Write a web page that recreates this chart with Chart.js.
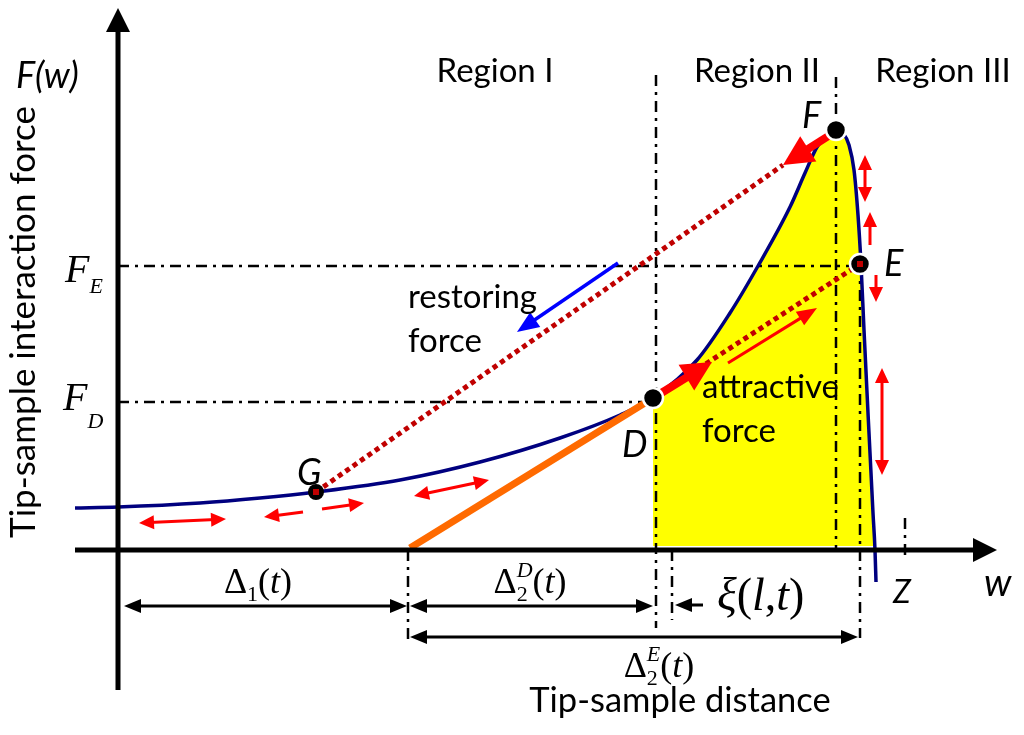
<!DOCTYPE html>
<html><head><meta charset="utf-8">
<script src="https://cdn.jsdelivr.net/npm/chart.js@4/dist/chart.umd.min.js"></script>
<style>html,body{margin:0;padding:0;background:#fff;}canvas{display:block;}</style>
</head><body>
<canvas id="c" width="1024" height="735"></canvas>
<script>
// tip-sample force curve F(w)
let curveW=[-4.3,0,8.2,14.2,19.8,28.2,36.2,44.2,50.2,53.5,57.9,61.2,64.0,67.2,68.7,69.9,71.0,71.8,72.5,73.1,73.6,74.0,74.3,74.6,75.0,75.5,75.7,75.8];
let curveF=[4.2,4.3,4.7,5.2,5.8,7.0,8.8,11.2,13.5,15.2,19.0,23.7,28.4,34.3,37.7,40.3,41.6,42.0,41.7,40.5,38.0,33.5,28.6,22.0,13.7,3.7,0,-3.2];
// named points on the curve
let ptNames=['G','D','F','E'];
let ptW=[19.8,53.5,71.8,74.2];
let ptF=[5.8,15.2,42.0,28.6];
// orange tangent line ending at D
let tangentW=[29.2,53.5];
let tangentF=[0.2,15.2];
// red dotted lines G->F and D->E
let dotGFw=[19.8,66.5], dotGFf=[5.8,38.5];
let dotDEw=[53.5,74.2], dotDEf=[15.2,28.6];
// dash-dot guides [w1,F1,w2,F2]
let guides=[
  [0,28.4,74.2,28.4],[0,14.8,53.5,14.8],
  [53.8,47.5,53.8,-7.8],[71.8,47.3,71.8,0],[74.2,28.6,74.2,-8.8],
  [55.4,0,55.4,-7],[29.0,0,29.0,-9.5],[78.7,3.2,78.7,-0.8]
];
// red arrows [w1,F1,w2,F2,both,kind]
let redArrows=[
  [71.2,41.5,66.5,38.5,0,'thick'],[54.0,15.5,59.4,18.8,0,'thick'],
  [61.0,18.7,69.9,24.2,0,'thin'],
  [74.7,39.5,74.7,34.8,1,'small'],[75.2,30.5,75.2,33.8,0,'small'],
  [75.8,27.5,75.8,24.8,0,'small'],[76.4,18.2,76.4,7.5,1,'small'],
  [2.1,2.7,10.8,3.1,1,'small'],[18.5,3.8,14.6,3.3,0,'small'],
  [20.4,4.1,24.6,4.7,0,'small'],[29.6,5.4,37.1,7.0,1,'small']
];
let restoreArrow=[50.0,28.7,39.9,21.8];
// dimension arrows below the w axis
let dimArrows=[[0.6,-5.6,28.9,-5.6,1],[29.2,-5.6,53.5,-5.6,1],[58.5,-5.5,55.7,-5.5,0],[29.2,-8.7,74.0,-8.7,1]];
let regionNames=['Region I','Region II','Region III'];
let regionW=[37.7,63.9,82.5];

const SANS='Lato, "Open Sans", sans-serif';
const SERIF='"Liberation Serif", "DejaVu Serif", serif';

function xy(ws,fs){return ws.map((w,i)=>({x:w,y:fs[i]}));}

function head(ctx,x,y,a,L,H){
  ctx.beginPath();ctx.moveTo(x,y);
  ctx.lineTo(x-L*Math.cos(a)+H*Math.sin(a),y-L*Math.sin(a)-H*Math.cos(a));
  ctx.lineTo(x-L*Math.cos(a)-H*Math.sin(a),y-L*Math.sin(a)+H*Math.cos(a));
  ctx.closePath();ctx.fill();
}
function arrow(ctx,x1,y1,x2,y2,both,color,w,L,H){
  const a=Math.atan2(y2-y1,x2-x1),c=Math.cos(a),s=Math.sin(a);
  ctx.save();ctx.strokeStyle=color;ctx.fillStyle=color;ctx.lineWidth=w;ctx.lineCap='butt';
  ctx.beginPath();
  ctx.moveTo(both?x1+c*L*0.7:x1,both?y1+s*L*0.7:y1);
  ctx.lineTo(x2-c*L*0.7,y2-s*L*0.7);ctx.stroke();
  head(ctx,x2,y2,a,L,H);
  if(both)head(ctx,x1,y1,a+Math.PI,L,H);
  ctx.restore();
}
// parts: [text,font,dy] or {stack:[[t,f,dy],[t,f,dy]]}
function mathText(ctx,parts,x,y,align){
  const wid=p=>{if(p.stack)return Math.max(...p.stack.map(wid));ctx.font=p[1];return ctx.measureText(p[0]).width;};
  let total=parts.reduce((s,p)=>s+wid(p),0);
  let cx=align==='center'?x-total/2:x;
  ctx.textAlign='left';ctx.textBaseline='alphabetic';ctx.fillStyle='#000';
  parts.forEach(p=>{
    (p.stack||[p]).forEach(q=>{ctx.font=q[1];ctx.fillText(q[0],cx,y+q[2]);});
    cx+=wid(p);
  });
}

const overlay={
  id:'overlay',
  afterDatasetsDraw(chart){
    const ctx=chart.ctx,sx=chart.scales.x,sy=chart.scales.y;
    const X=v=>sx.getPixelForValue(v),Y=v=>sy.getPixelForValue(v);
    // axes
    arrow(ctx,X(0),Y(-14),X(0),Y(54.2),0,'#000',5,24,12);
    arrow(ctx,X(-4.3),Y(0),X(87.9),Y(0),0,'#000',5,24,12);
    // red arrows
    redArrows.forEach(r=>{
      const k=r[5];
      const st=k==='thick'?[8,30,15]:k==='thin'?[3,20,8]:[3,15,7];
      arrow(ctx,X(r[0]),Y(r[1]),X(r[2]),Y(r[3]),r[4],'#ff0000',st[0],st[1],st[2]);
    });
    arrow(ctx,X(restoreArrow[0]),Y(restoreArrow[1]),X(restoreArrow[2]),Y(restoreArrow[3]),0,'#0000ff',3.5,22,9);
    dimArrows.forEach(d=>arrow(ctx,X(d[0]),Y(d[1]),X(d[2]),Y(d[3]),d[4],'#000',3,17,7));
    // points
    ptNames.forEach((n,i)=>{
      const px=X(ptW[i]),py=Y(ptF[i]);
      ctx.save();ctx.beginPath();ctx.arc(px,py,n==='G'?8:10,0,Math.PI*2);
      ctx.fillStyle='#000';ctx.fill();
      if(n!=='G'){ctx.strokeStyle='#fff';ctx.lineWidth=2.5;ctx.stroke();}
      if(n==='G'||n==='E'){ctx.fillStyle='#c00000';ctx.fillRect(px-3,py-3,6,6);}
      ctx.restore();
    });
    // text
    ctx.save();ctx.fillStyle='#000';ctx.textBaseline='alphabetic';
    ctx.font='italic 36px '+SANS;ctx.textAlign='left';
    ctx.fillText('F(w)',X(-10.2),Y(46.2));
    ctx.fillText('F',X(68.4),Y(42.2));
    ctx.fillText('E',X(76.6),Y(27.4));
    ctx.fillText('D',X(50.4),Y(9.3));
    ctx.fillText('G',X(17.9),Y(6.5));
    ctx.font='italic 32px '+SANS;
    ctx.fillText('Z',X(77.5),Y(-5.3));
    ctx.font='italic 38px '+SANS;
    ctx.fillText('w',X(86.6),Y(-4.6));
    ctx.font='33px '+SANS;
    ctx.textAlign='center';
    regionNames.forEach((r,i)=>ctx.fillText(r,X(regionW[i]),Y(46.8)));
    ctx.font='34.5px '+SANS;
    ctx.fillText('Tip-sample distance',X(56.2),Y(-16.2));
    ctx.font='33px '+SANS;
    ctx.textAlign='left';
    ctx.fillText('restoring',X(29.0),Y(24.2));
    ctx.fillText('force',X(29.0),Y(19.8));
    ctx.fillText('attractive',X(58.4),Y(15.2));
    ctx.fillText('force',X(58.4),Y(10.8));
    ctx.save();ctx.translate(X(-8.3),Y(22.8));ctx.rotate(-Math.PI/2);
    ctx.font='35px '+SANS;
    ctx.textAlign='center';ctx.fillText('Tip-sample interaction force',0,0);ctx.restore();
    // math labels
    const big='36px '+SERIF,bigI='italic 36px '+SERIF,sub='22px '+SERIF,subI='italic 22px '+SERIF;
    mathText(ctx,[['F','italic 40px '+SERIF,0],['E',subI,11]],X(-5.3),Y(26.8),'left');
    mathText(ctx,[['F','italic 40px '+SERIF,0],['D',subI,18]],X(-5.5),Y(14.0),'left');
    mathText(ctx,[['\u0394',big,0],['1',sub,8],['(',big,0],['t',bigI,0],[')',big,0]],X(14.0),Y(-4.3),'center');
    mathText(ctx,[['\u0394',big,0],{stack:[['D',subI,-16],['2',sub,8]]},['(',big,0],['t',bigI,0],[')',big,0]],X(41.2),Y(-4.3),'center');
    mathText(ctx,[['\u0394',big,0],{stack:[['E',subI,-16],['2',sub,8]]},['(',big,0],['t',bigI,0],[')',big,0]],X(54.1),Y(-12.7),'center');
    const xf='46px '+SERIF,xfI='italic 46px '+SERIF;
    mathText(ctx,[['\u03BE',xfI,0],['(',xf,0],['l',xfI,0],[',',xf,0],['t',xfI,0],[')',xf,0]],X(59.9),Y(-6.0),'left');
    ctx.restore();
  }
};

const datasets=[];
datasets.push({data:xy(curveW.slice(9,27),curveF.slice(9,27)),showLine:true,borderWidth:0,pointRadius:0,
  backgroundColor:'#ffff00',fill:{value:0.4},cubicInterpolationMode:'monotone',order:30});
guides.forEach(g=>datasets.push({data:[{x:g[0],y:g[1]},{x:g[2],y:g[3]}],showLine:true,pointRadius:0,
  borderColor:'#000',borderWidth:2.5,borderDash:[11,6,3,6],order:20}));
datasets.push({data:xy(curveW,curveF),showLine:true,pointRadius:0,borderColor:'#00007f',borderWidth:3.5,
  cubicInterpolationMode:'monotone',order:5});
datasets.push({data:xy(tangentW,tangentF),showLine:true,pointRadius:0,borderColor:'#ff6a00',borderWidth:7,order:4});
datasets.push({data:xy(dotGFw,dotGFf),showLine:true,pointRadius:0,borderColor:'#c00000',borderWidth:5,borderDash:[5,4],order:2});
datasets.push({data:xy(dotDEw,dotDEf),showLine:true,pointRadius:0,borderColor:'#c00000',borderWidth:5,borderDash:[5,4],order:2});

new Chart(document.getElementById('c'),{
  type:'scatter',
  data:{datasets:datasets},
  options:{
    responsive:false,animation:false,
    layout:{padding:0},
    plugins:{legend:{display:false},tooltip:{enabled:false}},
    scales:{
      x:{type:'linear',display:false,min:-11.8,max:90.6},
      y:{type:'linear',display:false,min:-18.5,max:55}
    }
  },
  plugins:[overlay]
});
</script>
</body></html>
